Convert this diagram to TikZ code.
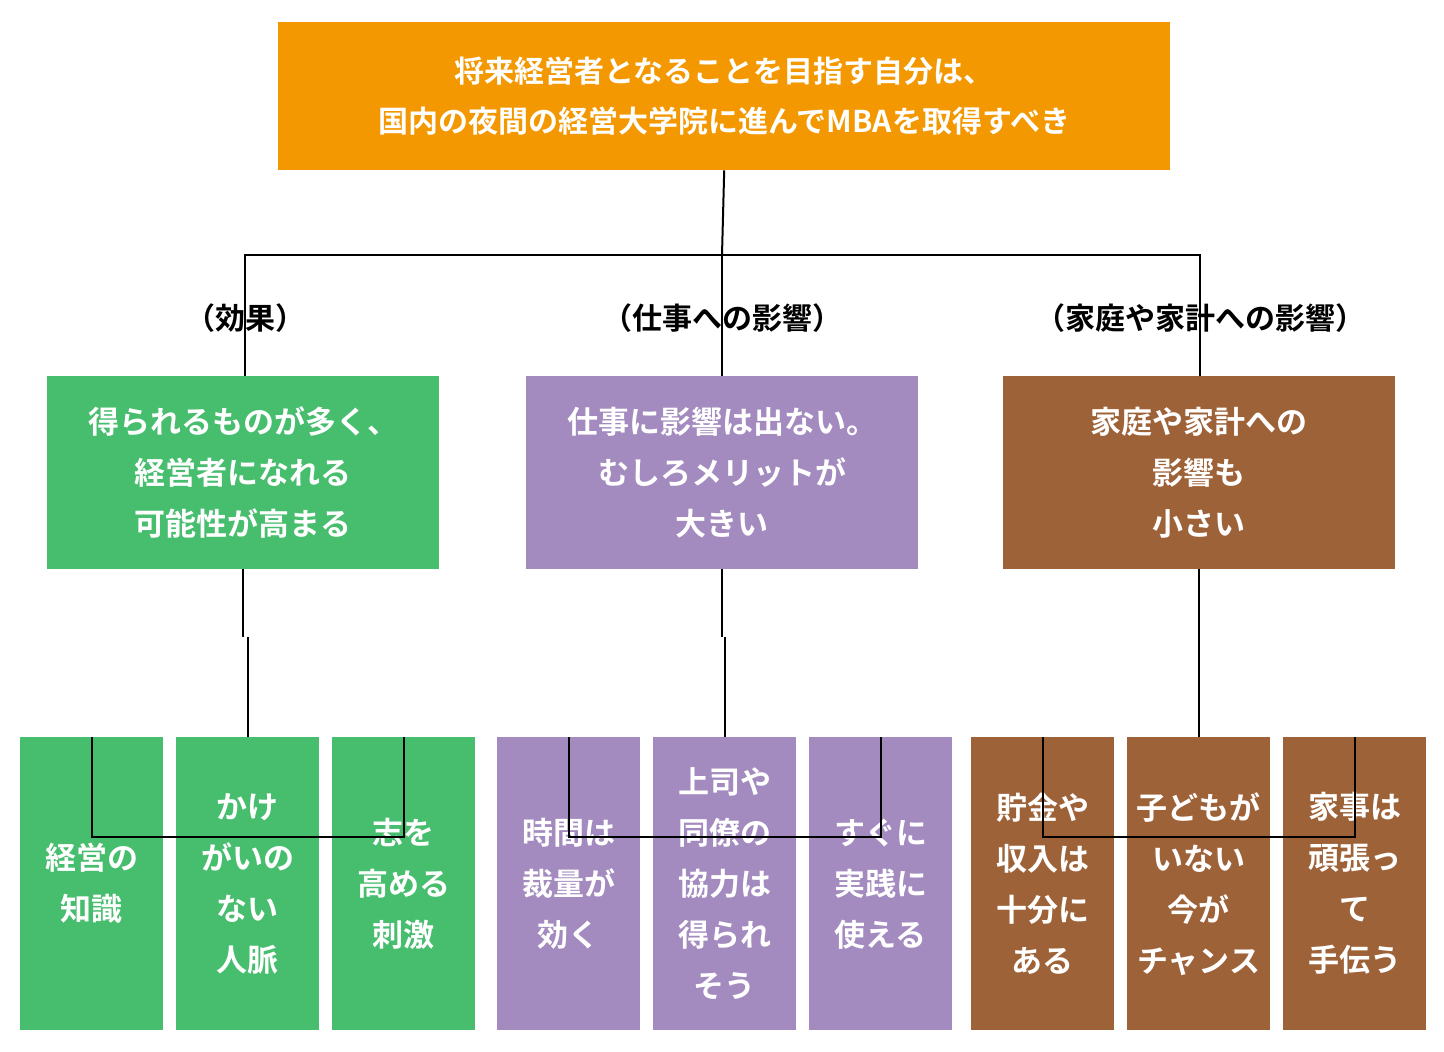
\documentclass[tikz,border=0pt]{standalone}
\usepackage{fontspec}
\newfontfamily\cjk{Noto Sans CJK JP Bold}
\definecolor{cor}{HTML}{F39800}
\definecolor{cgr}{HTML}{47BD6E}
\definecolor{cpu}{HTML}{A38ABF}
\definecolor{cbr}{HTML}{9E6239}
\begin{document}
\begin{tikzpicture}[x=1pt,y=-1pt,
 box/.style={anchor=north west,inner sep=0,align=center,text=white,font=\cjk\fontsize{31}{51}\selectfont},
 lbl/.style={font=\cjk\fontsize{30}{36}\selectfont,text=black},
 ln/.style={line width=2pt}]
\useasboundingbox (0,0) rectangle (1444,1052);
\node[box,fill=cor,minimum width=892,minimum height=148,font=\cjk\fontsize{30}{50}\selectfont] (top) at (278,22) {将来経営者となることを目指す自分は、\\国内の夜間の経営大学院に進んでMBAを取得すべき};
\node[box,fill=cgr,minimum width=392,minimum height=193] (g) at (47,376) {得られるものが多く、\\経営者になれる\\可能性が高まる};
\node[box,fill=cpu,minimum width=392,minimum height=193] (p) at (526,376) {仕事に影響は出ない。\\むしろメリットが\\大きい};
\node[box,fill=cbr,minimum width=392,minimum height=193] (b) at (1003,376) {家庭や家計への\\影響も\\小さい};
\foreach \n/\x/\c/\t in {g1/20/cgr/{経営の\\知識},g2/176/cgr/{かけ\\がいの\\ない\\人脈},g3/332/cgr/{志を\\高める\\刺激},
 p1/497/cpu/{時間は\\裁量が\\効く},p2/653/cpu/{上司や\\同僚の\\協力は\\得られ\\そう},p3/809/cpu/{すぐに\\実践に\\使える},
 b1/971/cbr/{貯金や\\収入は\\十分に\\ある},b2/1127/cbr/{子どもが\\いない\\今が\\チャンス},b3/1283/cbr/{家事は\\頑張っ\\て\\手伝う}}
 \node[box,fill=\c,minimum width=143,minimum height=293] (\n) at (\x,737) {\t};
\draw[ln] (top.south) -- (722,255);
\draw[ln] (245,376) -- (245,255) -- (1200,255) -- (1200,376);
\draw[ln] (722,255) -- (722,376);
\foreach \a/\l/\m/\r in {g/g1/g2/g3,p/p1/p2/p3,b/b1/b2/b3}{
 \draw[ln] (\a.south) -- ++(0,68);
 \draw[ln] (\l.north) |- ([yshift=-100]\m.north) -| (\r.north);
 \draw[ln] (\m.north) -- ++(0,-100);
}
\node[lbl] (l1) at (245,318) {（効果）};
\node[lbl] (l2) at (722,318) {（仕事への影響）};
\node[lbl] (l3) at (1200,318) {（家庭や家計への影響）};
\end{tikzpicture}
\end{document}
